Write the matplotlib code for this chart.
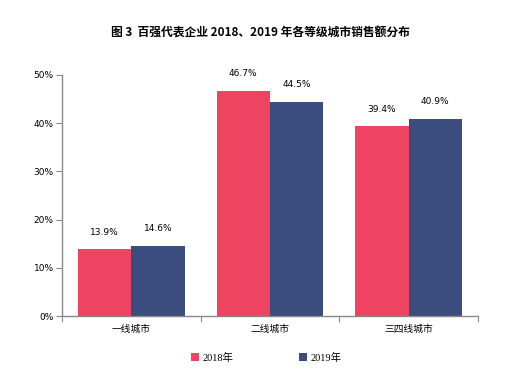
import matplotlib
matplotlib.use("Agg")
import matplotlib.pyplot as plt
import numpy as np
from matplotlib.ticker import FixedLocator, NullFormatter

categories = ["一线城市", "二线城市", "三四线城市"]
series_names = ["2018年", "2019年"]
v2018 = [13.9, 46.7, 39.4]
v2019 = [14.6, 44.5, 40.9]
yticks = [0, 10, 20, 30, 40, 50]

red = "#EE4461"
blue = "#3A4D7E"
cjk = ["Noto Sans CJK SC", "DejaVu Sans"]
sans = ["DejaVu Sans"]
serif = ["Liberation Serif", "Noto Sans CJK SC"]

fig = plt.figure(figsize=(5.2, 3.75), dpi=100)
ax = fig.add_axes([62/520, 1-316/375, (478-62)/520, (316-75)/375])

x = np.arange(len(categories))
w = 0.385
b1 = ax.bar(x - w/2, v2018, w, color=red, label=series_names[0])
b2 = ax.bar(x + w/2, v2019, w, color=blue, label=series_names[1])

for bars, vals in ((b1, v2018), (b2, v2019)):
    for r, v in zip(bars, vals):
        ax.annotate(f"{v:.1f}%", (r.get_x() + r.get_width()/2, v), xytext=(0, 9),
                    textcoords="offset points", ha="center", va="bottom",
                    fontsize=6.5, family=sans)

ax.set_xlim(-0.5, 2.5)
ax.set_ylim(0, 50)
ax.set_yticks(yticks)
ax.set_yticklabels([f"{t}%" for t in yticks], family=sans, fontsize=6.5)
ax.xaxis.set_major_locator(FixedLocator([-0.5, 0.5, 1.5, 2.5]))
ax.xaxis.set_major_formatter(NullFormatter())
ax.xaxis.set_minor_locator(FixedLocator(list(x)))
ax.set_xticklabels(categories, minor=True, family=cjk, fontsize=7)
ax.tick_params(axis="x", which="minor", length=0, pad=6)
ax.tick_params(axis="x", which="major", length=4, color="#888888", direction="out")
ax.tick_params(axis="y", length=4, color="#888888", direction="out", pad=2)
for s in ("top", "right"):
    ax.spines[s].set_visible(False)
for s in ("left", "bottom"):
    ax.spines[s].set_color("#888888")
    ax.spines[s].set_linewidth(1)

fig.text(260/520, 1-33/375, "图 3  百强代表企业 2018、2019 年各等级城市销售额分布",
         ha="center", va="center", fontsize=8.5, fontweight="bold", family=cjk)

leg = fig.legend(handles=[b1, b2], labels=series_names, loc="center",
                 bbox_to_anchor=(266/520, 1-358/375), ncol=2, frameon=False,
                 prop={"family": serif, "size": 7.5},
                 handlelength=0.8, handleheight=0.8, columnspacing=6.3, handletextpad=0.3)

fig.savefig("out.png", dpi=100)
